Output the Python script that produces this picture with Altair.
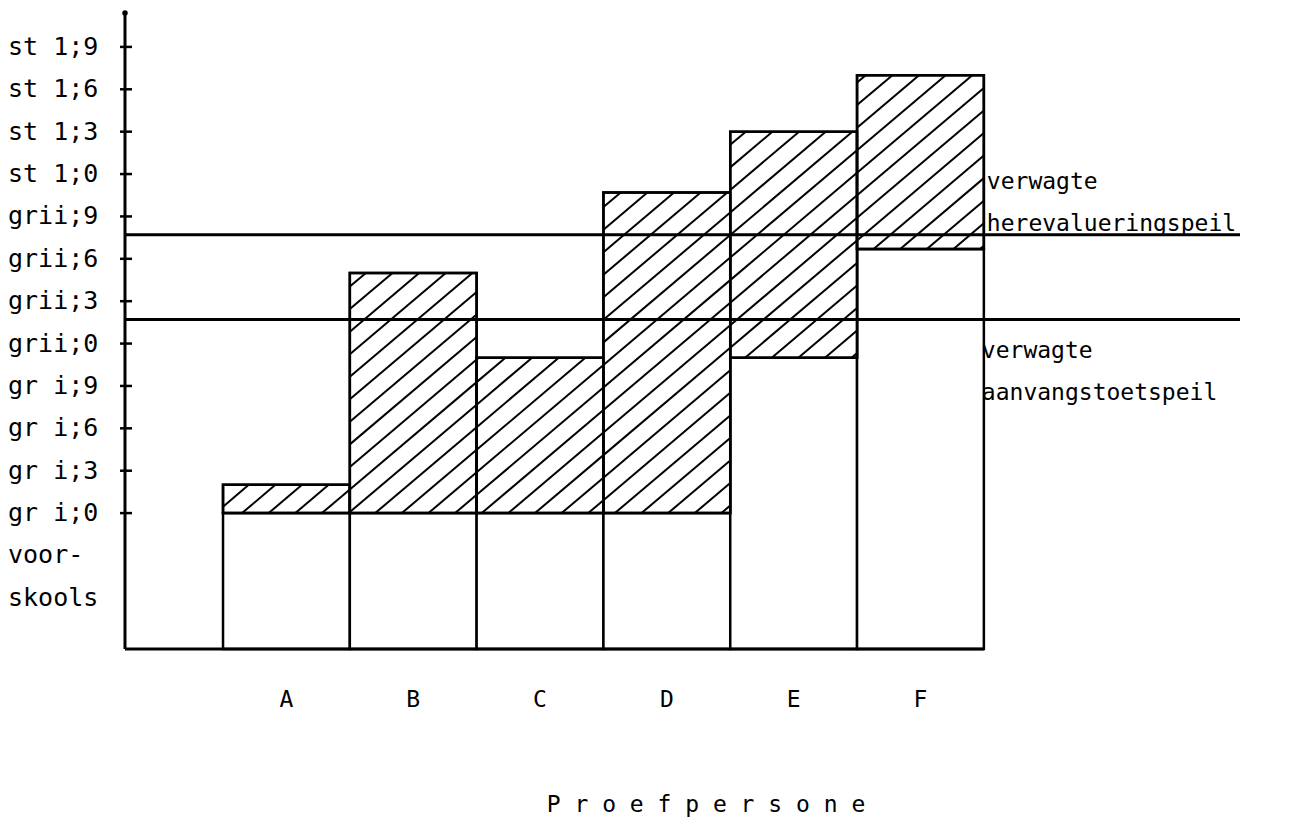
import altair as alt
import pandas as pd
import numpy as np

# ---- data (months relative to "gr i;0") ----
persons = ["A", "B", "C", "D", "E", "F"]
start_level = [0, 0, 0, 0, 11, 18.7]      # top of white part
end_level = [2, 17, 11, 22.7, 27, 31]     # top of hatched part

tick_values = [33, 30, 27, 24, 21, 18, 15, 12, 9, 6, 3, 0]
tick_labels = ["st 1;9", "st 1;6", "st 1;3", "st 1;0", "grii;9", "grii;6",
               "grii;3", "grii;0", "gr i;9", "gr i;6", "gr i;3", "gr i;0"]
extra_label_values = [-3, -6]
extra_labels = ["voor-", "skools"]

ref_names = ["herevaluering", "aanvangstoets"]
ref_values = [19.7, 13.7]
ref_text_1 = ["verwagte", "verwagte"]
ref_text_2 = ["herevalueringspeil", "aanvangstoetspeil"]

Y_MIN, Y_MAX = -9.62, 35.4
X_MIN, X_MAX = -0.773, 8.02
FONT = "DejaVu Sans Mono"

xs = alt.Scale(domain=[X_MIN, X_MAX], nice=False, zero=False)
ys = alt.Scale(domain=[Y_MIN, Y_MAX], nice=False, zero=False)

bars = pd.DataFrame({
    "person": persons,
    "x0": list(range(6)),
    "x1": list(range(1, 7)),
    "xm": [i + 0.5 for i in range(6)],
    "start": start_level,
    "end": end_level,
    "floor": [Y_MIN] * 6,
})

# hatch segments (decoration derived from bar data): lines rising to the right
K = 7.6       # slope in data units (months per x-unit)
STEP = 0.21   # spacing of hatch lines along x
pts = []
seg_id = 0
for x0, x1, y0, y1 in zip(bars.x0, bars.x1, bars.start, bars.end):
    for c in np.round(np.arange(-3, 8, STEP), 4):
        xa = max(x0, c + y0 / K)
        xb = min(x1, c + y1 / K)
        if xb - xa > 1e-3:
            pts.append({"seg": seg_id, "o": 0, "hx": xa, "hy": K * (xa - c)})
            pts.append({"seg": seg_id, "o": 1, "hx": xb, "hy": K * (xb - c)})
            seg_id += 1
hatch = pd.DataFrame(pts)

refs = pd.DataFrame({"name": ref_names, "v": ref_values, "xa": [X_MIN] * 2, "xb": [X_MAX] * 2,
                     "t1": ref_text_1, "t2": ref_text_2, "xt": [6, 6]})
ticks = pd.DataFrame({"v": tick_values, "label": tick_labels})
extras = pd.DataFrame({"v": extra_label_values, "label": extra_labels})
axes_df = pd.DataFrame({"xa": [X_MIN], "xb": [6], "ya": [Y_MIN], "yb": [Y_MAX]})

X = lambda f: alt.X(f, scale=xs, axis=None)
Y = lambda f: alt.Y(f, scale=ys, axis=None)

white = alt.Chart(bars).mark_rect(fill="white", stroke="black", strokeWidth=2.5).encode(
    x=X("x0:Q"), x2="x1:Q", y=Y("floor:Q"), y2="start:Q")
hatch_box = alt.Chart(bars).mark_rect(fill="white", stroke="black", strokeWidth=2.5).encode(
    x=X("x0:Q"), x2="x1:Q", y=Y("start:Q"), y2="end:Q")
hatch_lines = alt.Chart(hatch).mark_line(color="black", strokeWidth=2).encode(
    x=X("hx:Q"), y=Y("hy:Q"), detail="seg:N", order="o:Q")
outline = alt.Chart(bars).mark_rect(fill=None, stroke="black", strokeWidth=2.5).encode(
    x=X("x0:Q"), x2="x1:Q", y=Y("start:Q"), y2="end:Q")

ref_lines = alt.Chart(refs).mark_rule(color="black", strokeWidth=3).encode(
    x=X("xa:Q"), x2="xb:Q", y=Y("v:Q"))

y_axis = alt.Chart(axes_df).mark_rule(color="black", strokeWidth=3).encode(
    x=X("xa:Q"), y=Y("ya:Q"), y2="yb:Q")
x_axis = alt.Chart(axes_df).mark_rule(color="black", strokeWidth=3).encode(
    x=X("xa:Q"), x2="xb:Q", y=Y("ya:Q"))
top_dot = alt.Chart(axes_df).mark_point(filled=True, color="black", size=30, opacity=1).encode(
    x=X("xa:Q"), y=Y("yb:Q"))

tick_marks = alt.Chart(ticks).mark_rule(color="black", strokeWidth=2.5).encode(
    x=alt.value(-5), x2=alt.value(7), y=Y("v:Q"))
lbl = dict(align="left", baseline="middle", font=FONT, fontSize=25, color="black")
tick_text = alt.Chart(ticks).mark_text(**lbl).encode(
    x=alt.value(-117), y=Y("v:Q"), text="label:N")
extra_text = alt.Chart(extras).mark_text(**lbl).encode(
    x=alt.value(-117), y=Y("v:Q"), text="label:N")

cat_text = alt.Chart(bars).mark_text(align="center", baseline="middle", font=FONT, fontSize=23,
                                      color="black").encode(
    x=X("xm:Q"), y=alt.value(687), text="person:N")
title_text = alt.Chart(axes_df).mark_text(align="center", baseline="middle", font=FONT, fontSize=23,
                                           color="black").encode(
    x=alt.value(581), y=alt.value(792), text=alt.value("P r o e f p e r s o n e"))

base_ref = alt.Chart(refs[refs.name == "herevaluering"])
aan_ref = alt.Chart(refs[refs.name == "aanvangstoets"])
txt = dict(align="left", baseline="middle", font=FONT, fontSize=23, color="black")
here1 = base_ref.mark_text(dx=3, dy=-53, **txt).encode(x=X("xt:Q"), y=Y("v:Q"), text="t1:N")
here2 = base_ref.mark_text(dx=3, dy=-11, **txt).encode(x=X("xt:Q"), y=Y("v:Q"), text="t2:N")
aan1 = aan_ref.mark_text(dx=-2, dy=31, **txt).encode(x=X("xt:Q"), y=Y("v:Q"), text="t1:N")
aan2 = aan_ref.mark_text(dx=-2, dy=73, **txt).encode(x=X("xt:Q"), y=Y("v:Q"), text="t2:N")

chart = alt.layer(
    white, hatch_box, hatch_lines, outline, ref_lines, y_axis, x_axis, top_dot,
    tick_marks, tick_text, extra_text, cat_text, title_text, here1, here2, aan1, aan2
).properties(
    width=1115, height=636,
    padding={"left": 117, "top": 5, "right": 20, "bottom": 172},
    autosize="none",
    background="white",
).configure_view(stroke=None)

chart.save("out.html", embed_options={"renderer": "svg", "actions": False})
